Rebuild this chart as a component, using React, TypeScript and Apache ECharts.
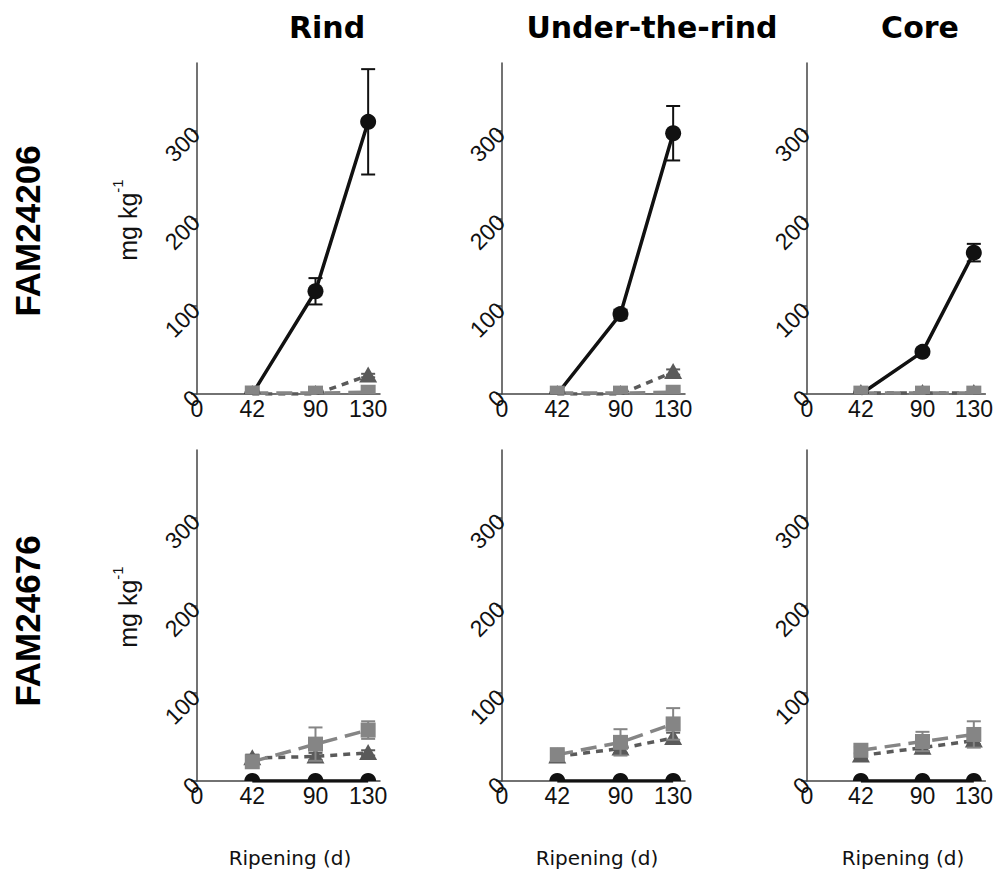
import React, { useEffect, useRef } from "react";
import * as echarts from "echarts";

const days = [42, 90, 130];
const xTicks = [0, 42, 90, 130];
const yTicks = [0, 100, 200, 300];
const sections = ["Rind", "Under-the-rind", "Core"];
const strains = ["FAM24206", "FAM24676"];

// FAM24206 — circle (black), triangle (dark grey), square (light grey)
const a_rind_circle = [0, 117, 310];
const a_rind_circle_err = [0, 15, 60];
const a_rind_tri = [0, 0, 21];
const a_rind_tri_err = [0, 0, 2];
const a_rind_sq = [1, 1, 2];
const a_rind_sq_err = [0, 0, 0];

const a_under_circle = [0, 91, 297];
const a_under_circle_err = [0, 5, 31];
const a_under_tri = [0, 0, 25];
const a_under_tri_err = [0, 0, 3];
const a_under_sq = [1, 1, 2];
const a_under_sq_err = [0, 0, 0];

const a_core_circle = [0, 48, 161];
const a_core_circle_err = [0, 3, 10];
const a_core_tri = [1, 1, 1];
const a_core_tri_err = [0, 0, 0];
const a_core_sq = [1, 1, 1];
const a_core_sq_err = [0, 0, 0];

// FAM24676
const b_rind_circle = [0, 0, 0];
const b_rind_circle_err = [0, 0, 0];
const b_rind_tri = [26, 28, 32];
const b_rind_tri_err = [4, 4, 3];
const b_rind_sq = [22, 42, 58];
const b_rind_sq_err = [3, 19, 10];

const b_under_circle = [0, 0, 0];
const b_under_circle_err = [0, 0, 0];
const b_under_tri = [28, 37, 49];
const b_under_tri_err = [3, 5, 6];
const b_under_sq = [30, 44, 65];
const b_under_sq_err = [4, 15, 18];

const b_core_circle = [0, 0, 0];
const b_core_circle_err = [0, 0, 0];
const b_core_tri = [29, 38, 46];
const b_core_tri_err = [3, 4, 4];
const b_core_sq = [35, 45, 53];
const b_core_sq_err = [4, 11, 15];

const panels = [
  [
    [a_rind_circle, a_rind_circle_err, a_rind_tri, a_rind_tri_err, a_rind_sq, a_rind_sq_err],
    [a_under_circle, a_under_circle_err, a_under_tri, a_under_tri_err, a_under_sq, a_under_sq_err],
    [a_core_circle, a_core_circle_err, a_core_tri, a_core_tri_err, a_core_sq, a_core_sq_err],
  ],
  [
    [b_rind_circle, b_rind_circle_err, b_rind_tri, b_rind_tri_err, b_rind_sq, b_rind_sq_err],
    [b_under_circle, b_under_circle_err, b_under_tri, b_under_tri_err, b_under_sq, b_under_sq_err],
    [b_core_circle, b_core_circle_err, b_core_tri, b_core_tri_err, b_core_sq, b_core_sq_err],
  ],
];

const COL_LEFT = [197, 502, 807];
const ROW_TOP = [63, 450];
const GRID_W = 183;
const GRID_H = 331;
const X_MAX = 139;
const Y_MAX = 377;

const seriesStyles = [
  { color: "#111111", dash: "solid" as any, marker: "circle" },
  { color: "#5a5a5a", dash: [7, 6] as any, marker: "triangle" },
  { color: "#858585", dash: [16, 8] as any, marker: "square" },
];

function makeMarkerRender(marker: string, color: string) {
  return (params: any, api: any) => {
    const x = api.value(0);
    const y = api.value(1);
    const e = api.value(2);
    const c = api.coord([x, y]);
    const children: any[] = [];
    if (e > 0) {
      const hi = api.coord([x, y + e]);
      const lo = api.coord([x, y - e]);
      const st = { stroke: color, lineWidth: 2 };
      children.push({ type: "line", shape: { x1: c[0], y1: lo[1], x2: c[0], y2: hi[1] }, style: st });
      children.push({ type: "line", shape: { x1: c[0] - 7, y1: hi[1], x2: c[0] + 7, y2: hi[1] }, style: st });
      children.push({ type: "line", shape: { x1: c[0] - 7, y1: lo[1], x2: c[0] + 7, y2: lo[1] }, style: st });
    }
    if (marker === "circle") {
      children.push({ type: "circle", shape: { cx: c[0], cy: c[1], r: 8 }, style: { fill: color } });
    } else if (marker === "triangle") {
      children.push({
        type: "polygon",
        shape: { points: [[c[0], c[1] - 9], [c[0] - 9, c[1] + 7], [c[0] + 9, c[1] + 7]] },
        style: { fill: color },
      });
    } else {
      children.push({ type: "rect", shape: { x: c[0] - 7.5, y: c[1] - 7.5, width: 15, height: 15 }, style: { fill: color } });
    }
    return { type: "group", children };
  };
}

export default function App() {
  const ref = useRef<HTMLDivElement>(null);
  useEffect(() => {
    document.body.style.margin = "0";
    const chart = echarts.init(ref.current!, undefined, { renderer: "svg" });
    const grids: any[] = [];
    const xAxes: any[] = [];
    const yAxes: any[] = [];
    const series: any[] = [];
    let gi = 0;
    for (let r = 0; r < 2; r++) {
      for (let c = 0; c < 3; c++) {
        grids.push({ left: COL_LEFT[c], top: ROW_TOP[r], width: GRID_W, height: GRID_H });
        xAxes.push({
          type: "value",
          gridIndex: gi,
          min: 0,
          max: X_MAX,
          axisLine: { show: true, onZero: false, lineStyle: { color: "#444", width: 1.5 } },
          axisTick: { show: false },
          splitLine: { show: false },
          axisLabel: {
            customValues: xTicks,
            fontSize: 23,
            fontFamily: "Liberation Sans",
            color: "#111",
            margin: 3,
          },
        });
        yAxes.push({
          type: "value",
          gridIndex: gi,
          min: 0,
          max: Y_MAX,
          axisLine: { show: true, onZero: false, lineStyle: { color: "#444", width: 1.5 } },
          axisTick: { show: true, length: 6, customValues: yTicks, lineStyle: { color: "#444", width: 1.5 } },
          splitLine: { show: false },
          axisLabel: {
            customValues: yTicks,
            rotate: 45,
            fontSize: 23,
            fontFamily: "Liberation Sans",
            color: "#111",
            margin: 1,
          },
        });
        const p = panels[r][c];
        for (let s = 0; s < 3; s++) {
          const vals = p[s * 2];
          series.push({
            type: "line",
            xAxisIndex: gi,
            yAxisIndex: gi,
            data: days.map((d, i) => [d, vals[i]]),
            symbol: "none",
            clip: true,
            lineStyle: { color: seriesStyles[s].color, width: 3.5, type: seriesStyles[s].dash },
            z: 2,
          });
        }
        for (let s = 0; s < 3; s++) {
          const vals = p[s * 2];
          const errs = p[s * 2 + 1];
          series.push({
            type: "custom",
            xAxisIndex: gi,
            yAxisIndex: gi,
            clip: true,
            data: days.map((d, i) => [d, vals[i], errs[i]]),
            encode: { x: 0, y: 1 },
            renderItem: makeMarkerRender(seriesStyles[s].marker, seriesStyles[s].color),
            z: 3,
          });
        }
        gi++;
      }
    }

    const titleX = [327, 652, 920];
    const graphic: any[] = [];
    sections.forEach((t, i) => {
      graphic.push({
        type: "text",
        x: titleX[i],
        y: 27,
        style: {
          text: t,
          fontSize: 30,
          fontWeight: "bold",
          fontFamily: "DejaVu Sans",
          fill: "#000",
          align: "center",
          verticalAlign: "middle",
        },
      });
    });
    const rowY = [231, 621];
    const unitY = [220, 607];
    strains.forEach((t, i) => {
      graphic.push({
        type: "text",
        x: 27,
        y: rowY[i],
        rotation: Math.PI / 2,
        style: {
          text: t,
          fontSize: 35,
          fontWeight: "bold",
          fontFamily: "Liberation Sans",
          fill: "#000",
          align: "center",
          verticalAlign: "middle",
        },
      });
      graphic.push({
        type: "text",
        x: 125,
        y: unitY[i],
        rotation: Math.PI / 2,
        style: {
          text: "{a|mg kg}{b|-1}",
          align: "center",
          verticalAlign: "middle",
          rich: {
            a: { fontSize: 25, fontFamily: "Liberation Sans", fill: "#111", lineHeight: 30, verticalAlign: "bottom" },
            b: { fontSize: 15, fontFamily: "Liberation Sans", fill: "#111", lineHeight: 30, verticalAlign: "top" },
          },
        },
      });
    });
    const ripX = [290, 597, 903];
    ripX.forEach((x) => {
      graphic.push({
        type: "text",
        x,
        y: 858,
        style: {
          text: "Ripening (d)",
          fontSize: 20,
          fontFamily: "DejaVu Sans",
          fill: "#111",
          align: "center",
          verticalAlign: "middle",
        },
      });
    });

    chart.setOption({
      animation: false,
      backgroundColor: "#fff",
      grid: grids,
      xAxis: xAxes,
      yAxis: yAxes,
      series,
      graphic,
    });
    return () => chart.dispose();
  }, []);
  return <div ref={ref} style={{ width: 996, height: 870 }} />;
}
